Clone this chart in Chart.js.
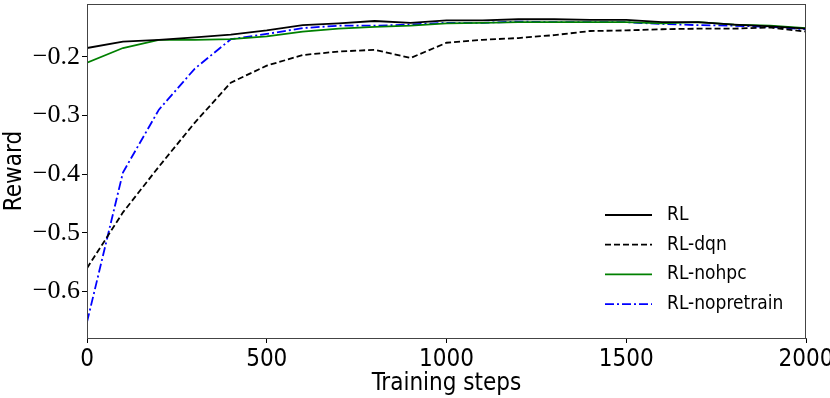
<!DOCTYPE html>
<html>
<head>
<meta charset="utf-8">
<script src="https://cdn.jsdelivr.net/npm/chart.js@4/dist/chart.umd.min.js"></script>
<style>
  html, body { margin: 0; padding: 0; background: #fff; }
  #wrap { width: 830px; height: 398px; }
</style>
</head>
<body>
<div id="wrap"><canvas id="rewardChart" width="830" height="398"></canvas></div>
<script>
const steps = [0, 100, 200, 300, 400, 500, 600, 700, 800, 900, 1000, 1100, 1200, 1300, 1400, 1500, 1600, 1700, 1800, 1900, 2000];

const rl = [-0.185, -0.174, -0.171, -0.167, -0.162, -0.155, -0.146, -0.143, -0.139, -0.142, -0.138, -0.138, -0.136, -0.136, -0.137, -0.137, -0.141, -0.141, -0.145, -0.148, -0.152];
const rlDqn = [-0.560, -0.465, -0.387, -0.312, -0.244, -0.215, -0.197, -0.191, -0.188, -0.202, -0.176, -0.171, -0.168, -0.163, -0.156, -0.155, -0.153, -0.152, -0.152, -0.150, -0.157];
const rlNohpc = [-0.210, -0.185, -0.171, -0.171, -0.170, -0.165, -0.157, -0.152, -0.149, -0.147, -0.143, -0.142, -0.141, -0.141, -0.141, -0.141, -0.143, -0.141, -0.145, -0.147, -0.151];
const rlNopretrain = [-0.652, -0.397, -0.290, -0.220, -0.170, -0.161, -0.151, -0.147, -0.147, -0.145, -0.142, -0.142, -0.140, -0.141, -0.141, -0.141, -0.144, -0.146, -0.147, -0.149, -0.153];

const yTicks = [-0.6, -0.5, -0.4, -0.3, -0.2];
const xTicks = [0, 500, 1000, 1500, 2000];

const sansFamily = "'Liberation Sans Narrow', 'DejaVu Sans Condensed', 'Liberation Sans', sans-serif";
const serifFamily = "'Liberation Serif', 'DejaVu Serif', serif";

const toPoints = (ys) => steps.map((s, i) => ({ x: s, y: ys[i] }));

const series = [
  { label: 'RL', values: rl, color: '#000000', dash: [] },
  { label: 'RL-dqn', values: rlDqn, color: '#000000', dash: [6, 3] },
  { label: 'RL-nohpc', values: rlNohpc, color: '#008000', dash: [] },
  { label: 'RL-nopretrain', values: rlNopretrain, color: '#0000ff', dash: [9, 3, 2, 3] }
];

// box round the plot, like matplotlib spines
const frame = {
  id: 'frame',
  afterDraw(chart) {
    const { ctx, chartArea: a } = chart;
    ctx.save();
    ctx.strokeStyle = '#444';
    ctx.lineWidth = 1;
    ctx.strokeRect(a.left + 0.5, a.top + 0.5, a.right - a.left - 1, a.bottom - a.top);
    ctx.restore();
  }
};

// legend inside the plot, lower right
const innerLegend = {
  id: 'innerLegend',
  afterDatasetsDraw(chart) {
    const { ctx } = chart;
    const x0 = 605, x1 = 652, tx = 667;
    let y = 215;
    ctx.save();
    ctx.font = '19px ' + sansFamily;
    ctx.textBaseline = 'middle';
    chart.data.datasets.forEach((ds) => {
      ctx.strokeStyle = ds.borderColor;
      ctx.lineWidth = ds.borderWidth;
      ctx.setLineDash(ds.borderDash || []);
      ctx.beginPath();
      ctx.moveTo(x0, y);
      ctx.lineTo(x1, y);
      ctx.stroke();
      ctx.setLineDash([]);
      ctx.fillStyle = '#000';
      ctx.fillText(ds.label, tx, y);
      y += 29.7;
    });
    ctx.restore();
  }
};

const ctx = document.getElementById('rewardChart').getContext('2d');

new Chart(ctx, {
  type: 'line',
  data: {
    datasets: series.map((s) => ({
      label: s.label,
      data: toPoints(s.values),
      borderColor: s.color,
      borderWidth: 1.8,
      borderDash: s.dash,
      pointRadius: 0,
      tension: 0,
      fill: false
    }))
  },
  options: {
    responsive: false,
    animation: false,
    layout: { padding: { top: 4, right: 24, left: 0, bottom: 0 } },
    plugins: {
      legend: { display: false },
      tooltip: { enabled: false }
    },
    scales: {
      x: {
        type: 'linear',
        min: 0,
        max: 2000,
        afterBuildTicks: (axis) => { axis.ticks = xTicks.map((v) => ({ value: v })); },
        afterFit: (axis) => { axis.height = 60; axis.paddingLeft = 0; axis.paddingRight = 0; },
        grid: { display: true, drawOnChartArea: false, drawTicks: true, tickLength: 5, color: '#000' },
        border: { display: true, color: '#444' },
        ticks: {
          color: '#000',
          padding: 2,
          maxRotation: 0,
          font: { family: sansFamily, size: 24 },
          callback: (v) => String(v)
        },
        title: {
          display: true,
          text: 'Training steps',
          color: '#000',
          padding: { top: -2, bottom: 0 },
          font: { family: sansFamily, size: 24 }
        }
      },
      y: {
        type: 'linear',
        min: -0.679,
        max: -0.11,
        afterBuildTicks: (axis) => { axis.ticks = yTicks.map((v) => ({ value: v })); },
        afterFit: (axis) => { axis.width = 87; axis.paddingTop = 0; axis.paddingBottom = 0; },
        grid: { display: true, drawOnChartArea: false, drawTicks: true, tickLength: 5, color: '#000' },
        border: { display: true, color: '#444' },
        ticks: {
          color: '#000',
          padding: 2,
          font: { family: serifFamily, size: 26 },
          callback: (v) => '\u2212' + Math.abs(v).toFixed(1)
        },
        title: {
          display: true,
          text: 'Reward',
          color: '#000',
          padding: { top: 0, bottom: 0 },
          font: { family: sansFamily, size: 24 }
        }
      }
    }
  },
  plugins: [frame, innerLegend]
});
</script>
</body>
</html>
